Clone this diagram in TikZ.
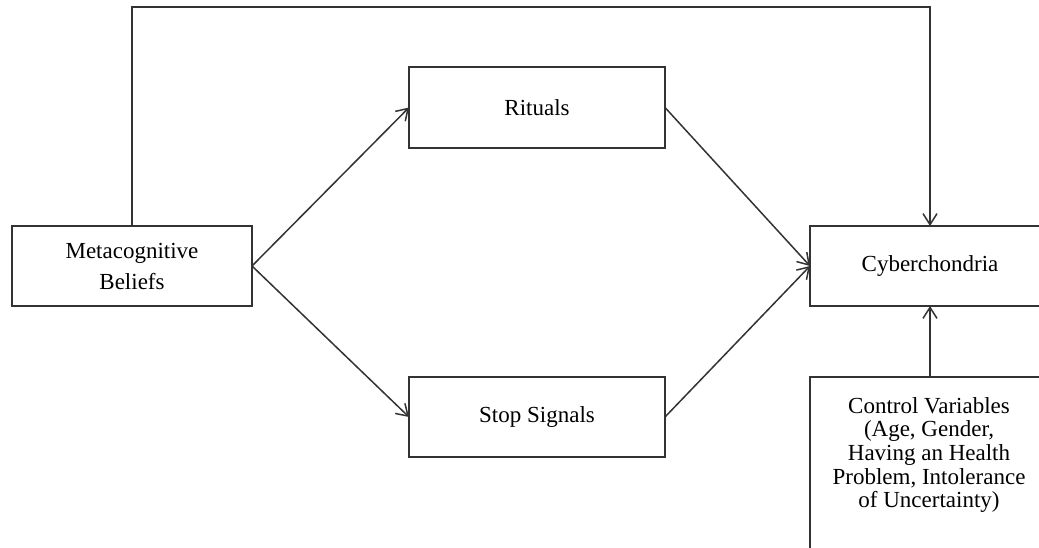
\documentclass[tikz,border=0pt]{standalone}
\usepackage{fontspec}
\setmainfont{Liberation Serif}
\usetikzlibrary{arrows.meta}
\tikzset{
  box/.style={draw=black!80, line width=1.6pt, rectangle, inner sep=0pt, outer sep=0pt, align=center,
    font=\fontsize{23}{31}\selectfont},
  arr/.style={draw=black!80, line width=1.5pt, -{Straight Barb[length=11pt,width=14pt,line width=1.5pt]}},
  txt/.style={align=center, font=\fontsize{23}{23.5}\selectfont, inner sep=0pt}
}
\begin{document}
\begin{tikzpicture}[x=1pt,y=-1pt]
\useasboundingbox (0,0) rectangle (1039,548);
\fill[white] (0,0) rectangle (1039,548);
\clip (0,0) rectangle (1039,548);
\node[box, minimum width=240, minimum height=80] (meta) at (132,266) {Metacognitive\\Beliefs};
\node[box, minimum width=256, minimum height=81] (rit) at (537,107.5) {Rituals};
\node[box, minimum width=256, minimum height=80] (stop) at (537,417) {Stop Signals};
\node[box, minimum width=240, minimum height=80] (cyber) at (930,266) {Cyberchondria};
\node[box, minimum width=240, minimum height=200, anchor=north west] (ctrl) at (810,377) {};
\node[txt] (ctrltxt) at (929,455) {Control Variables\\(Age, Gender,\\Having an Health\\Problem, Intolerance\\of Uncertainty)};
\coordinate (top) at (0,7);
\draw[arr] (meta.east) -- (rit.west);
\draw[arr] (meta.east) -- (stop.west);
\draw[arr] (rit.east) -- (cyber.west);
\draw[arr] (stop.east) -- (cyber.west);
\draw[arr] (meta.north) -- (meta.north |- top) -| (cyber.north);
\draw[arr] (ctrl.north) -- (cyber.south);
\end{tikzpicture}
\end{document}
